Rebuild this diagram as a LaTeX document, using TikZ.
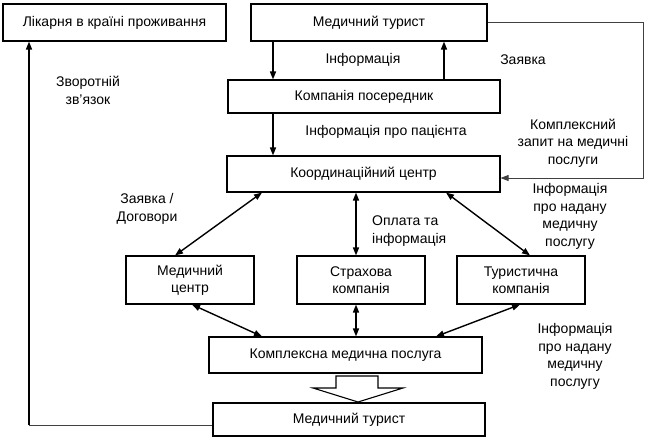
\documentclass[tikz,border=0pt]{standalone}
\usepackage{fontspec}
\setmainfont{Liberation Sans}
\usetikzlibrary{arrows.meta}
\begin{document}
\begin{tikzpicture}[x=1pt,y=-1pt,
  every node/.style={font=\fontsize{14}{17.5}\selectfont, inner sep=0pt},
  box/.style={draw, line width=1.1pt, align=center},
  lbl/.style={align=center},
  arr/.style={line width=1.4pt, -{Triangle[length=8pt,width=6pt]}},
  darr/.style={line width=1.4pt, {Triangle[length=8pt,width=6pt]}-{Triangle[length=8pt,width=6pt]}},
  thinline/.style={line width=0.8pt, draw=black!75}]
\useasboundingbox (0,0) rectangle (650,440);

\node[box, minimum width=223pt, minimum height=37pt] (lik) at (114.5,22.5) {Лікарня в країні проживання};
\node[box, minimum width=236pt, minimum height=37pt] (mt1) at (369,22.5) {Медичний турист};
\node[box, minimum width=272pt, minimum height=33pt] (kp) at (364,96.5) {Компанія посередник};
\node[box, minimum width=273pt, minimum height=36pt] (kc) at (363.5,174) {Координаційний центр};
\node[box, minimum width=128pt, minimum height=48pt] (mc) at (190,280) {Медичний\\центр};
\node[box, minimum width=128pt, minimum height=48pt] (sk) at (361,280) {Страхова\\компанія};
\node[box, minimum width=128pt, minimum height=48pt] (tk) at (521,280) {Туристична\\компанія};
\node[box, minimum width=273pt, minimum height=36pt] (kmp) at (345.5,355) {Комплексна медична послуга};
\node[box, minimum width=272pt, minimum height=33pt] (mt2) at (349,419.5) {Медичний турист};

% labels
\node[lbl] (l1) at (363,60) {Інформація};
\node[lbl] (l2) at (523,60) {Заявка};
\node[lbl] (l3) at (88,90.5) {Зворотній\\зв’язок};
\node[lbl] (l4) at (386,132) {Інформація про пацієнта};
\node[lbl] (l5) at (573,143) {Комплексний\\запит на медичні\\послуги};
\node[lbl] (l6) at (147,209) {Заявка /\\Договори};
\node[align=left, anchor=west] (l7) at (372,231) {Оплата та\\інформація};
\node[lbl] (l8) at (570,216.5) {Інформація\\про надану\\медичну\\послугу};
\node[lbl] (l9) at (575,356.5) {Інформація\\про надану\\медичну\\послугу};

% connectors
\draw[arr] (273,0 |- mt1.south) -- (273,0 |- kp.north);
\draw[arr] (444,0 |- kp.north) -- (444,0 |- mt1.south);
\draw[arr] (273,0 |- kp.south) -- (273,0 |- kc.north);
\draw[thinline, -{Triangle[length=8pt,width=6pt]}] (mt1.east) -- ++(156,0) |- ([yshift=-4pt]kc.east);
\draw[darr] (262,0 |- kc.south) -- (175,0 |- mc.north);
\draw[darr] (356,0 |- kc.south) -- (356,0 |- sk.north);
\draw[darr] (446,0 |- kc.south) -- (530,0 |- tk.north);
\draw[darr] (192,0 |- mc.south) -- (262,0 |- kmp.north);
\draw[darr] (356,0 |- sk.south) -- (356,0 |- kmp.north);
\draw[darr] (520,0 |- tk.south) -- (436,0 |- kmp.north);

% hollow arrow
\draw[line width=1.1pt, line join=miter] (336,376) -- (378,376) -- (378,388) -- (403,388) -- (358,402) -- (313,388) -- (336,388) -- cycle;

% feedback
\coordinate (fb) at (29,425);
\draw[thinline] ([yshift=-5.5pt]mt2.west) -- (fb);
\draw[arr] (fb) -- (29,0 |- lik.south);
\end{tikzpicture}
\end{document}
